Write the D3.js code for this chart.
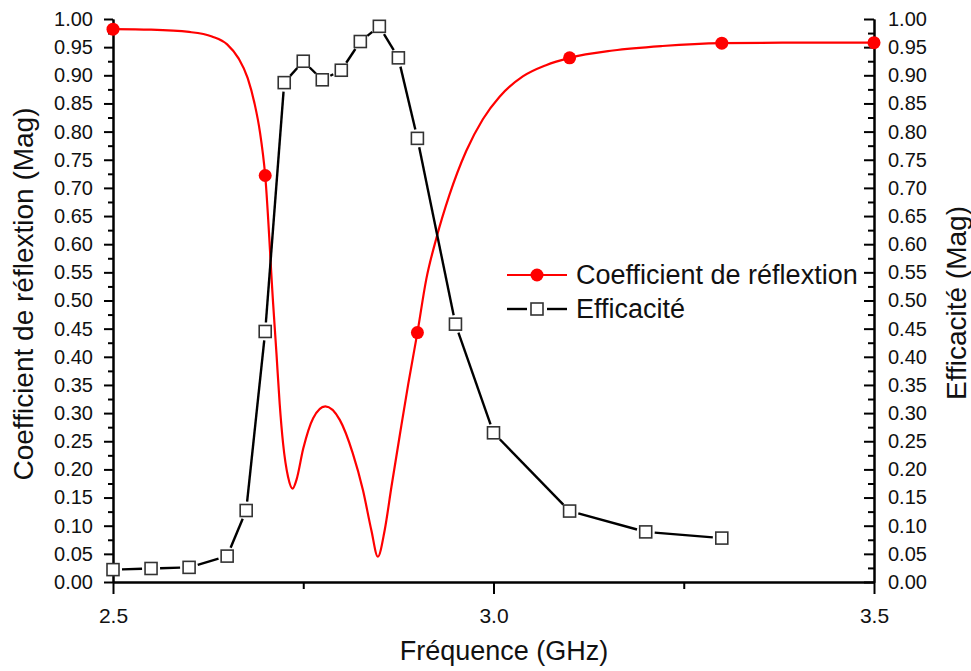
<!DOCTYPE html>
<html><head><meta charset="utf-8">
<script src="https://cdn.jsdelivr.net/npm/d3@7"></script>
<style>
html,body{margin:0;padding:0;background:#fff;}
svg{display:block;font-family:"Liberation Sans",Arial,sans-serif;}
</style></head>
<body><svg id="c" width="971" height="671"></svg>
<script>
// Reflection coefficient (dense curve)
const reflFreq = [2.50,2.55,2.60,2.63,2.65,2.665,2.677,2.686,2.693,2.70,2.7104,2.7148,2.719,2.7235,2.730,2.736,2.741,2.750,2.763,2.779,2.798,2.815,2.8285,2.8395,2.848,2.857,2.866,2.877,2.888,2.90,2.9117,2.925,2.942,2.964,2.986,3.008,3.0385,3.069,3.10,3.157,3.222,3.30,3.40,3.50];
const reflMag  = [0.982,0.981,0.977,0.969,0.955,0.930,0.895,0.850,0.800,0.722,0.495,0.406,0.317,0.246,0.187,0.166,0.181,0.237,0.291,0.312,0.288,0.229,0.163,0.092,0.045,0.092,0.170,0.262,0.352,0.443,0.538,0.611,0.687,0.765,0.822,0.862,0.898,0.918,0.931,0.944,0.952,0.957,0.958,0.958];
const reflMarkerFreq = [2.5,2.7,2.9,3.1,3.3,3.5];
// Efficiency
const effFreq = [2.50,2.55,2.60,2.65,2.675,2.70,2.725,2.75,2.775,2.80,2.825,2.85,2.875,2.90,2.95,3.00,3.10,3.20,3.30];
const effVal  = [0.022,0.024,0.026,0.046,0.127,0.445,0.887,0.925,0.892,0.909,0.960,0.987,0.931,0.788,0.458,0.265,0.126,0.089,0.078];
const xTicks = [2.5,3.0,3.5];
const xMinor = [2.75,3.25];
const yTicks = d3.range(0,21).map(i=>i*0.05);
const yMinor = d3.range(0,20).map(i=>i*0.05+0.025);
const legendLabels = ["Coefficient de réflextion","Efficacité"];
const xTitle = "Fréquence (GHz)";
const yTitleLeft = "Coefficient de réflextion (Mag)";
const yTitleRight = "Efficacité (Mag)";

const svg = d3.select("#c");
const x = d3.scaleLinear().domain([2.5,3.5]).range([113,874]);
const y = d3.scaleLinear().domain([0,1]).range([582,19]);
const RED = "#ff0000";

function styleAxis(g, fs){
  g.selectAll(".domain").attr("stroke","#000").attr("stroke-width",2);
  g.selectAll(".tick line").attr("stroke","#000").attr("stroke-width",2);
  g.selectAll("text").attr("font-size",fs).attr("fill","#111").attr("font-family","'Liberation Sans',Arial,sans-serif");
}

// Left axis
const gL = svg.append("g").attr("transform","translate(113,0)")
  .call(d3.axisLeft(y).tickValues(yTicks).tickSize(9).tickSizeOuter(0).tickPadding(11).tickFormat(d3.format(".2f")));
styleAxis(gL,20);
const gLm = svg.append("g").attr("transform","translate(113,0)")
  .call(d3.axisLeft(y).tickValues(yMinor).tickSize(5).tickSizeOuter(0).tickFormat(""));
styleAxis(gLm,20);

// Right axis (ticks inward)
const gR = svg.append("g").attr("transform","translate(874,0)")
  .call(d3.axisRight(y).tickValues(yTicks).tickSize(-10).tickSizeOuter(0).tickPadding(14).tickFormat(d3.format(".2f")));
styleAxis(gR,20);
const gRm = svg.append("g").attr("transform","translate(874,0)")
  .call(d3.axisRight(y).tickValues(yMinor).tickSize(-6).tickSizeOuter(0).tickFormat(""));
styleAxis(gRm,20);

// Bottom axis
const gB = svg.append("g").attr("transform","translate(0,582)")
  .call(d3.axisBottom(x).tickValues(xTicks).tickSize(12).tickSizeOuter(0).tickPadding(14).tickFormat(d3.format(".1f")));
styleAxis(gB,21);
const gBm = svg.append("g").attr("transform","translate(0,582)")
  .call(d3.axisBottom(x).tickValues(xMinor).tickSize(7).tickSizeOuter(0).tickFormat(""));
styleAxis(gBm,21);

// Titles
svg.append("text").attr("x",504).attr("y",660).attr("text-anchor","middle")
  .attr("font-size",27).attr("fill","#111").text(xTitle);
svg.append("text").attr("transform","translate(33,294) rotate(-90)").attr("text-anchor","middle")
  .attr("font-size",28).attr("fill","#111").text(yTitleLeft);
svg.append("text").attr("transform","translate(966,303) rotate(-90)").attr("text-anchor","middle")
  .attr("font-size",28).attr("fill","#111").text(yTitleRight);

// Reflection curve
const reflData = reflFreq.map((f,i)=>({f, v:reflMag[i]}));
svg.append("path").datum(reflData)
  .attr("fill","none").attr("stroke",RED).attr("stroke-width",2.2)
  .attr("d", d3.line().x(d=>x(d.f)).y(d=>y(d.v)).curve(d3.curveMonotoneX));
svg.selectAll("circle.rm").data(reflMarkerFreq.map(f=>reflData.find(d=>Math.abs(d.f-f)<1e-9)))
  .enter().append("circle").attr("class","rm")
  .attr("cx",d=>x(d.f)).attr("cy",d=>y(d.v)).attr("r",6.5).attr("fill",RED);

// Efficiency: segments with gaps at markers
const effData = effFreq.map((f,i)=>({f, v:effVal[i]}));
const gap = 9;
const segs = d3.pairs(effData).map(([a,b])=>{
  const x1=x(a.f), y1=y(a.v), x2=x(b.f), y2=y(b.v);
  const dx=x2-x1, dy=y2-y1, L=Math.hypot(dx,dy);
  const ux=dx/L, uy=dy/L;
  return {x1:x1+ux*gap, y1:y1+uy*gap, x2:x2-ux*gap, y2:y2-uy*gap, L};
}).filter(s=>s.L>2*gap);
svg.selectAll("line.es").data(segs).enter().append("line").attr("class","es")
  .attr("x1",d=>d.x1).attr("y1",d=>d.y1).attr("x2",d=>d.x2).attr("y2",d=>d.y2)
  .attr("stroke","#000").attr("stroke-width",2.4);
const S = 12;
svg.selectAll("rect.em").data(effData).enter().append("rect").attr("class","em")
  .attr("x",d=>x(d.f)-S/2).attr("y",d=>y(d.v)-S/2).attr("width",S).attr("height",S)
  .attr("fill","#fff").attr("stroke","#333").attr("stroke-width",1.6);

// Legend
const lg = svg.append("g");
lg.append("line").attr("x1",507).attr("x2",567).attr("y1",275).attr("y2",275).attr("stroke",RED).attr("stroke-width",2.2);
lg.append("circle").attr("cx",537).attr("cy",275).attr("r",6.5).attr("fill",RED);
lg.append("text").attr("x",576).attr("y",284).attr("font-size",27).attr("fill","#111").text(legendLabels[0]);
lg.append("line").attr("x1",507).attr("x2",527).attr("y1",309).attr("y2",309).attr("stroke","#000").attr("stroke-width",2.4);
lg.append("line").attr("x1",547).attr("x2",567).attr("y1",309).attr("y2",309).attr("stroke","#000").attr("stroke-width",2.4);
lg.append("rect").attr("x",531).attr("y",303).attr("width",12).attr("height",12).attr("fill","#fff").attr("stroke","#333").attr("stroke-width",1.6);
lg.append("text").attr("x",576).attr("y",318).attr("font-size",27).attr("fill","#111").text(legendLabels[1]);
</script></body></html>
